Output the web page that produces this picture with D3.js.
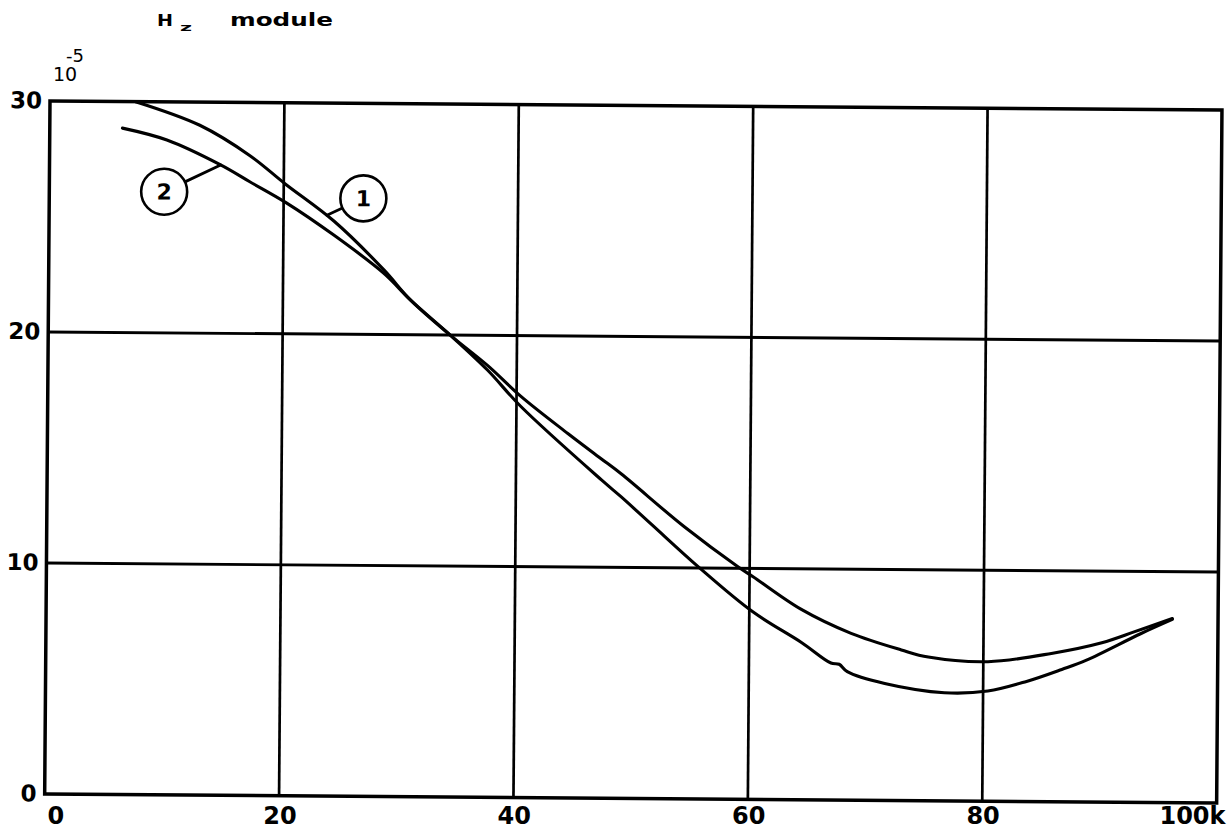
<!DOCTYPE html>
<html>
<head>
<meta charset="utf-8">
<script src="https://cdn.jsdelivr.net/npm/d3@7"></script>
<style>
  html, body { margin: 0; padding: 0; background: #fff; }
  svg { display: block; }
  text { font-family: "DejaVu Sans", sans-serif; fill: #000; }
</style>
</head>
<body>
<svg id="chart" width="1232" height="836"></svg>
<script>
// Axis ticks and labels
const xTicks = [0, 20, 40, 60, 80, 100];
const xTickLabels = ["0", "20", "40", "60", "80", "100k"];
const yTicks = [0, 10, 20, 30];
const yTickLabels = ["0", "10", "20", "30"];

// Curve 1
const curve1X = [7.3, 12.8, 17.1, 20.1, 24.3, 28.6, 30.9, 34.3, 37.5, 40.4, 44.4, 47.2, 49.0, 54.4, 59.0, 60.3, 64.4, 68.7, 73.0, 75.3, 80.4, 85.8, 90.1, 92.9, 96.1];
const curve1Y = [30.0, 29.0, 27.7, 26.5, 24.9, 22.8, 21.5, 20.0, 18.7, 17.36, 15.78, 14.72, 14.04, 11.78, 10.07, 9.64, 8.25, 7.22, 6.52, 6.22, 6.04, 6.42, 6.9, 7.39, 7.97];

// Curve 2
const curve2X = [6.2, 10.0, 14.6, 17.1, 20.2, 24.3, 28.6, 30.9, 34.3, 37.5, 40.4, 47.3, 49.0, 51.6, 55.6, 60.3, 64.5, 67.0, 67.7, 68.4, 71.6, 76.7, 80.4, 83.7, 86.7, 88.8, 93.4, 96.1];
const curve2Y = [28.85, 28.35, 27.29, 26.57, 25.68, 24.29, 22.65, 21.5, 20.0, 18.5, 16.92, 13.78, 13.05, 11.87, 10.06, 8.12, 6.8, 5.93, 5.88, 5.56, 5.06, 4.68, 4.77, 5.2, 5.73, 6.14, 7.3, 7.93];

// Circled curve numbers: point on the curve and circle centre
const labelIds = ["1", "2"];
const labelAnchorX = [23.7, 14.6];
const labelAnchorY = [25.15, 27.29];
const labelCenterX = [26.8, 9.8];
const labelCenterY = [25.89, 26.11];

const svg = d3.select("#chart");
const W = 1172, H = 693;
const x = d3.scaleLinear().domain([0, 100]).range([0, W]);
const y = d3.scaleLinear().domain([0, 30]).range([H, 0]);

// The sheet sits slightly turned on the page
const g = svg.append("g").attr("transform", "translate(50,101) rotate(0.44)");

// Interior grid
g.append("g").selectAll("line")
  .data(xTicks.filter(d => d > 0 && d < 100))
  .join("line")
  .attr("x1", d => x(d)).attr("x2", d => x(d))
  .attr("y1", y(30)).attr("y2", y(0))
  .attr("stroke", "#000").attr("stroke-width", 2.7);
g.append("g").selectAll("line")
  .data(yTicks.filter(d => d > 0 && d < 30))
  .join("line")
  .attr("x1", x(0)).attr("x2", x(100))
  .attr("y1", d => y(d)).attr("y2", d => y(d))
  .attr("stroke", "#000").attr("stroke-width", 2.9);

// Frame
g.append("rect")
  .attr("x", x(0)).attr("y", y(30))
  .attr("width", x(100) - x(0)).attr("height", y(0) - y(30))
  .attr("fill", "none").attr("stroke", "#000").attr("stroke-width", 3.5);

// Value labels on the left
const yAxis = d3.axisLeft(y).tickValues(yTicks)
  .tickFormat((d, i) => yTickLabels[i]).tickSize(0).tickPadding(8);
const ya = g.append("g").call(yAxis);
ya.select(".domain").remove();
ya.selectAll("text")
  .attr("font-family", "DejaVu Sans, sans-serif")
  .attr("font-size", 23).attr("font-weight", "bold")
  .attr("dy", "0.3em").attr("fill", "#000");

// Frequency labels sit level along the bottom of the page
const xAxis = d3.axisBottom(x).tickValues(xTicks)
  .tickFormat((d, i) => xTickLabels[i]).tickSize(0).tickPadding(13);
const xa = svg.append("g").attr("transform", "translate(45,794)").call(xAxis);
xa.select(".domain").remove();
xa.selectAll("text")
  .attr("font-family", "DejaVu Sans, sans-serif")
  .attr("font-size", 24).attr("font-weight", "bold")
  .attr("fill", "#000")
  .attr("dy", "0.71em")
  .attr("text-anchor", d => d === 0 ? "start" : d === 100 ? "end" : "middle")
  .attr("dx", d => d === 0 ? 2 : d === 100 ? 8 : 0);

// Curves
const line = d3.line()
  .x(d => x(d[0])).y(d => y(d[1]))
  .curve(d3.curveCatmullRom.alpha(0.5));
const series = [
  d3.zip(curve1X, curve1Y),
  d3.zip(curve2X, curve2Y)
];
g.append("g").selectAll("path")
  .data(series)
  .join("path")
  .attr("d", line)
  .attr("fill", "none")
  .attr("stroke", "#000")
  .attr("stroke-width", 3.1)
  .attr("stroke-linecap", "round")
  .attr("stroke-linejoin", "round");

// Circled labels with leader lines
const R = 23;
labelIds.forEach((id, i) => {
  const cx = x(labelCenterX[i]), cy = y(labelCenterY[i]);
  const ax = x(labelAnchorX[i]), ay = y(labelAnchorY[i]);
  const len = Math.hypot(ax - cx, ay - cy);
  const sx = cx + (ax - cx) * R / len, sy = cy + (ay - cy) * R / len;
  g.append("line")
    .attr("x1", sx).attr("y1", sy).attr("x2", ax).attr("y2", ay)
    .attr("stroke", "#000").attr("stroke-width", 2.8).attr("stroke-linecap", "round");
  g.append("circle")
    .attr("cx", cx).attr("cy", cy).attr("r", R)
    .attr("fill", "#fff").attr("stroke", "#000").attr("stroke-width", 2.6);
  g.append("text")
    .attr("x", cx).attr("y", cy).attr("dy", "0.36em")
    .attr("text-anchor", "middle")
    .attr("font-size", 22).attr("font-weight", "bold")
    .text(id);
});

// Title
svg.append("text").attr("x", 157).attr("y", 26)
  .attr("font-size", 15).attr("font-weight", "bold")
  .attr("textLength", 16).attr("lengthAdjust", "spacingAndGlyphs")
  .text("H");
svg.append("text").attr("x", 180).attr("y", 31)
  .attr("font-size", 11).attr("font-weight", "bold")
  .attr("textLength", 12).attr("lengthAdjust", "spacingAndGlyphs")
  .text("z");
svg.append("text").attr("x", 230).attr("y", 26)
  .attr("font-size", 17).attr("font-weight", "bold")
  .attr("textLength", 103).attr("lengthAdjust", "spacingAndGlyphs")
  .text("module");

// Unit
svg.append("text").attr("x", 53).attr("y", 81)
  .attr("font-size", 19)
  .text("10");
svg.append("text").attr("x", 66).attr("y", 62)
  .attr("font-size", 18)
  .text("-5");
</script>
</body>
</html>
